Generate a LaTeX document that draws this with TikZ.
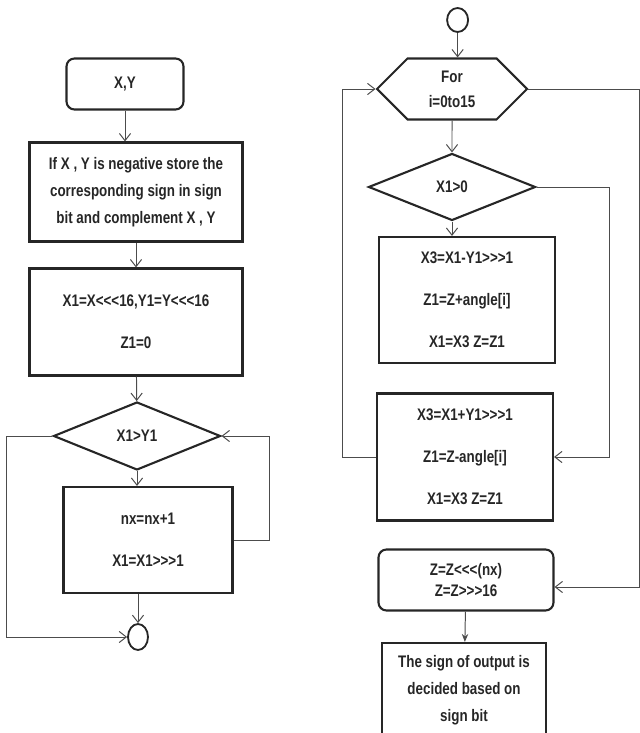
\documentclass[tikz,border=0pt]{standalone}
\usepackage{fontspec}
\setmainfont{Liberation Sans}[FakeStretch=0.8, Ligatures=TeXOff]
\usepackage{tikz}
\usetikzlibrary{arrows.meta, positioning, shapes.geometric, shapes.symbols}

\begin{document}
\begin{tikzpicture}[scale=1.0,
    font=\fontsize{11.9}{19.2}\selectfont\bfseries,
    every node/.style={text=black!85},
    procbox/.style={draw=black!85, line width=1.5pt, align=center, inner sep=2pt},
    termbox/.style={procbox, rounded corners=0.2cm},
    decbox/.style={draw=black!85, line width=1.5pt, diamond, inner sep=0pt},
    joint/.style={draw=black!85, line width=1.3pt, ellipse, inner sep=0pt},
    flow/.style={draw=black!70, line width=0.7pt, -{Straight Barb[length=1.8mm, width=2.8mm]}},
    line/.style={draw=black!70, line width=0.7pt}]

    \useasboundingbox (0,0) rectangle (16,18.325);
    \clip (0,0) rectangle (16,18.325);

    % Left column: normalisation
    \node[termbox, minimum width=2.925cm, minimum height=1.275cm] (xy) at (3.125,16.225) {X,Y};
    \node[procbox, minimum width=5.325cm, minimum height=2.475cm] (sgn) at (3.4,13.525) {If X , Y is negative store the\\corresponding sign in sign\\bit and complement X , Y};
    \node[procbox, minimum width=5.325cm, minimum height=2.675cm] (init) at (3.4,10.275) {X1=X<<<16,Y1=Y<<<16\\[0.375cm]Z1=0};
    \node[decbox, minimum width=4.175cm, minimum height=1.7cm] (cmp) at (3.425,7.425) {X1>Y1};
    \node[procbox, minimum width=4.225cm, minimum height=2.65cm] (inc) at (3.7,4.825) {nx=nx+1\\[0.375cm]X1=X1>>>1};
    \node[joint, minimum width=0.5cm, minimum height=0.65cm] (stop) at (3.45,2.4) {};

    % Right column: rotation loop
    \node[joint, minimum width=0.525cm, minimum height=0.6cm] (start) at (11.44,17.825) {};
    \node[draw=black!85, line width=1.5pt, signal, signal to=west and east, signal pointer angle=90,
          align=center, minimum width=3.75cm, minimum height=1.525cm, inner sep=0pt] (loop) at (11.3,16.1) {For\\[-0.05cm]i=0to15};
    \node[decbox, minimum width=4.175cm, minimum height=1.675cm] (sign) at (11.3,13.65) {X1>0};
    \node[procbox, minimum width=4.4cm, minimum height=3.15cm] (rotp) at (11.675,10.825) {X3=X1-Y1>>>1\\[0.375cm]Z1=Z+angle[i]\\[0.375cm]X1=X3 Z=Z1};
    \node[procbox, minimum width=4.4cm, minimum height=3.175cm] (rotn) at (11.625,6.9) {X3=X1+Y1>>>1\\[0.375cm]Z1=Z-angle[i]\\[0.375cm]X1=X3 Z=Z1};
    \node[termbox, minimum width=4.375cm, minimum height=1.525cm] (scale) at (11.65,3.825) {Z=Z<<<(nx)\\[-0.15cm]Z=Z>>>16};
    \node[procbox, minimum width=4.1cm, minimum height=2.35cm] (out) at (11.6,1.075) {The sign of output is\\decided based on\\sign bit};

    % Arrows left
    \draw[flow] (xy) -- (xy |- sgn.north);
    \draw[flow] (sgn) -- (init);
    \draw[flow] (init) -- (cmp);
    \draw[flow] (cmp) -- (cmp |- inc.north);
    \draw[flow] (inc.south -| stop) -- (stop);
    \draw[flow] (inc.east) -- ++(0.9cm,0) |- (cmp.east);
    \draw[flow] (cmp.west) -- ++(-1.15cm,0) |- (stop.west);

    % Arrows right
    \draw[flow] (start) -- (start |- loop.north);
    \draw[flow] (loop) -- (sign);
    \draw[flow] (sign) -- (sign |- rotp.north);
    \draw[flow] (sign.east) -- ++(1.825cm,0) |- (rotn.east);
    \draw[flow] (rotn.west) -- ++(-0.825cm,0) |- (loop.west);
    \draw[flow] (loop.east) -- ++(2.775cm,0) |- ([yshift=-0.175cm]scale.east);
    \draw[line, -{Stealth[length=2mm, width=1.6mm]}] (scale) -- (out);
\end{tikzpicture}
\end{document}
